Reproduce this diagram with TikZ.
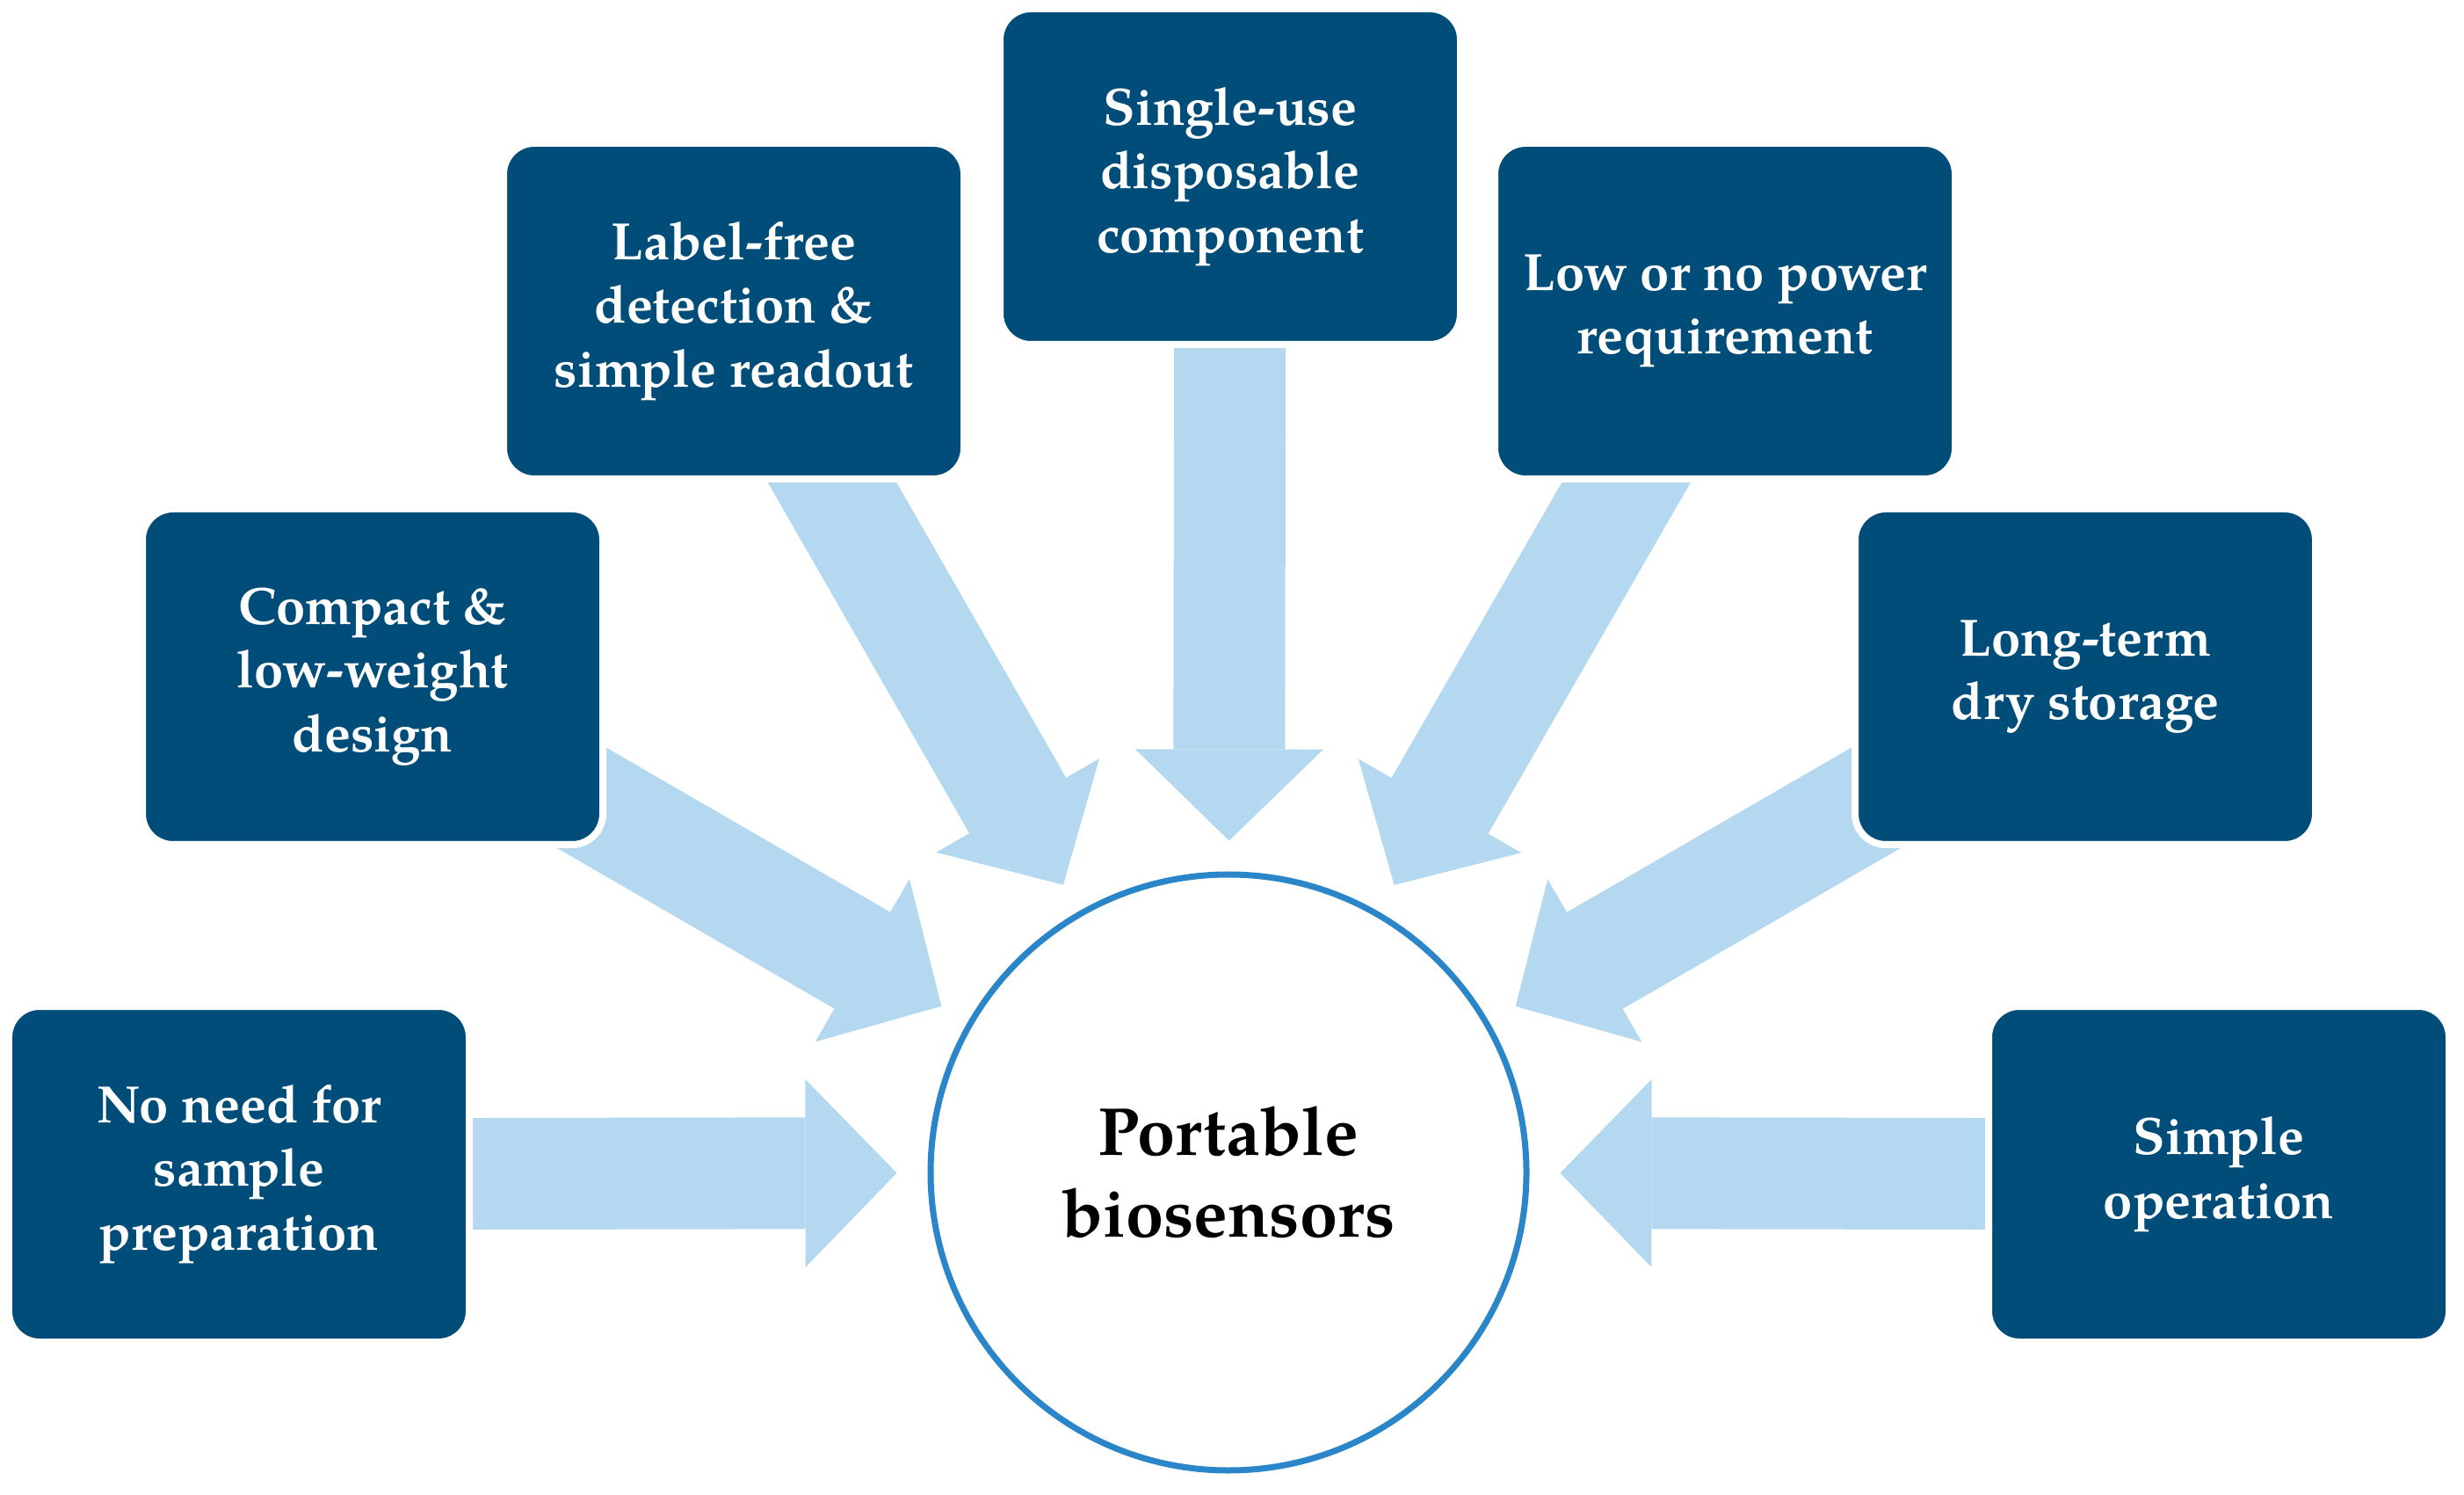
\documentclass[tikz,border=0pt]{standalone}
\usepackage{fontspec}
\setmainfont{TeX Gyre Pagella}
\usepackage{xcolor}
\usetikzlibrary{arrows.meta,backgrounds}
\definecolor{boxblue}{HTML}{004D7A}
\definecolor{arrowblue}{HTML}{B4D8EF}
\definecolor{ringblue}{HTML}{2A86C8}
\tikzset{
    feature-box/.style = {draw=white, fill=boxblue, line width=0.8mm, rectangle, rounded corners=0.35cm, minimum width=5.24cm, minimum height=3.82cm, text=white, font=\fontsize{17}{20.6}\selectfont\bfseries, align=center},
    hub-circle/.style = {draw=ringblue, fill=white, line width=0.7mm, circle, minimum size=6.78cm, font=\fontsize{22}{26.5}\selectfont\bfseries, align=center},
    fat-arrow/.style = {draw=arrowblue, line width=1.27cm, shorten >=0.35cm, -{Triangle[length=1.04cm,width=2.14cm,line width=0pt]}},
}

\begin{document}
\begin{tikzpicture}
\useasboundingbox (0,0) rectangle (28.04,17);
\node [hub-circle] (hub) at (13.98,3.66) {Portable\\biosensors};
\node [feature-box] (noneed) at (2.72,3.64) {No need for\\sample\\preparation};
\node [feature-box] (compact) at (4.24,9.30) {Compact \&\\low-weight\\design};
\node [feature-box] (labelfree) at (8.35,13.46) {Label-free\\detection \&\\simple readout};
\node [feature-box] (singleuse) at (14.00,14.99) {Single-use\\disposable\\component};
\node [feature-box] (lowpower) at (19.63,13.46) {Low or no power\\requirement};
\node [feature-box] (longterm) at (23.73,9.30) {Long-term\\dry storage};
\node [feature-box] (simpleop) at (25.25,3.64) {Simple\\operation};
\begin{scope}[on background layer]
\draw [fat-arrow] (noneed.center) -- (hub);
\draw [fat-arrow] (compact.center) -- (hub);
\draw [fat-arrow] (labelfree.center) -- (hub);
\draw [fat-arrow] (singleuse.center) -- (hub);
\draw [fat-arrow] (lowpower.center) -- (hub);
\draw [fat-arrow] (longterm.center) -- (hub);
\draw [fat-arrow] (simpleop.center) -- (hub);
\end{scope}
\end{tikzpicture}
\end{document}
